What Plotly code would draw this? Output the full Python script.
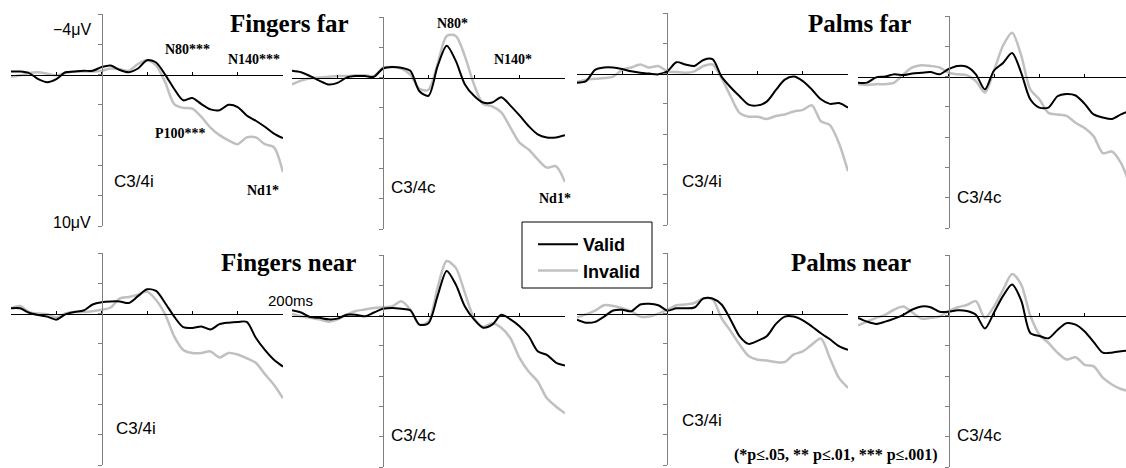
import plotly.graph_objects as go

W, H = 1126, 468

# time axis (ms)
time_ms = list(range(-100, 201, 10))

# ---- ERP amplitudes (µV, negative up) ----
fingers_far_ipsi_valid = [-0.2, -0.2, -0.1, 0.3, 0.5, 0.3, -0.15, -0.2, -0.25, -0.25, -0.5, -0.6, -0.3, -0.15, -0.4, -0.95, -0.8, 0.0, 0.95, 1.7, 1.55, 1.95, 2.3, 2.35, 2.0, 2.15, 2.7, 3.05, 3.45, 3.9, 4.2]
fingers_far_ipsi_invalid = [0.15, 0.05, -0.1, -0.15, -0.05, 0.05, -0.1, -0.2, -0.2, -0.2, -0.25, -0.4, -0.35, -0.25, -0.7, -0.95, -0.6, 0.5, 1.95, 2.2, 2.25, 2.8, 3.5, 4.0, 4.35, 4.6, 4.15, 4.15, 4.6, 4.8, 6.45]
fingers_far_contra_valid = [-0.45, -0.35, -0.1, 0.2, 0.45, 0.35, 0.0, -0.1, -0.1, -0.05, -0.6, -0.7, -0.65, -0.45, 0.9, 1.2, -0.75, -2.1, -1.1, 0.45, 1.2, 1.65, 1.65, 1.3, 1.85, 2.5, 3.2, 3.75, 3.95, 3.95, 3.8]
fingers_far_contra_invalid = [0.45, 0.2, 0.05, 0.0, -0.05, -0.1, -0.1, -0.15, -0.15, -0.1, -0.65, -0.7, -0.6, -0.2, 0.75, 0.8, -0.9, -2.75, -2.75, -1.4, 0.45, 1.75, 1.9, 2.3, 3.3, 4.3, 4.75, 5.4, 5.95, 5.85, 6.9]
palms_far_ipsi_valid = [0.6, 0.5, -0.25, -0.4, -0.4, -0.3, -0.15, -0.05, 0.0, 0.05, -0.15, -0.75, -0.6, -0.5, -0.9, -0.95, 0.2, 0.9, 1.5, 2.05, 2.1, 1.85, 1.1, 0.4, 0.2, 0.5, 1.05, 1.7, 2.0, 1.95, 2.25]
palms_far_ipsi_invalid = [0.55, 0.4, 0.35, 0.3, 0.2, -0.25, -0.4, -0.6, -0.4, -0.5, -0.15, -0.1, -0.05, -0.15, -0.5, -0.6, 0.3, 1.5, 2.6, 2.85, 2.85, 3.0, 2.8, 2.7, 2.5, 2.4, 2.1, 3.15, 3.4, 4.6, 6.45]
palms_far_contra_valid = [0.4, 0.4, 0.05, 0.0, -0.15, -0.1, -0.2, -0.25, -0.3, -0.15, -0.5, -0.7, -0.65, -0.15, 0.85, -0.4, -0.9, -1.55, -0.25, 1.5, 2.05, 2.05, 1.3, 1.15, 1.25, 1.8, 2.5, 2.7, 2.8, 2.5, 2.25]
palms_far_contra_invalid = [0.5, 0.55, 0.5, 0.5, 0.4, -0.15, -0.6, -0.75, -0.7, -0.6, -0.25, -0.15, -0.1, 0.3, 1.05, -0.4, -2.05, -2.9, -1.4, 0.85, 1.5, 2.4, 2.5, 2.6, 3.05, 3.4, 3.95, 5.05, 4.95, 5.7, 7.2]
fingers_near_ipsi_valid = [-0.35, -0.35, -0.05, 0.1, 0.2, 0.4, 0.05, -0.1, -0.2, -0.6, -0.75, -0.8, -0.8, -0.7, -1.15, -1.6, -1.5, -0.7, 0.2, 0.9, 0.95, 0.85, 1.05, 0.7, 0.6, 0.55, 0.55, 1.6, 2.4, 3.05, 3.5]
fingers_near_ipsi_invalid = [-0.35, -0.5, -0.1, 0.0, 0.05, 0.25, 0.0, -0.1, -0.1, -0.15, -0.25, -0.4, -1.0, -1.1, -1.25, -1.45, -0.9, 0.05, 1.5, 2.4, 2.6, 2.6, 2.5, 2.9, 2.6, 2.7, 2.95, 3.25, 4.0, 4.7, 5.6]
fingers_near_contra_valid = [-0.35, -0.2, 0.1, 0.15, 0.25, 0.2, -0.05, -0.05, 0.05, -0.2, -0.45, -0.5, -0.45, -0.35, 0.6, 0.5, -1.3, -2.95, -2.05, -0.6, 0.25, 0.8, 0.6, -0.05, 0.25, 0.7, 1.35, 2.35, 2.6, 3.1, 3.3]
fingers_near_contra_invalid = [-0.1, 0.05, 0.15, 0.25, 0.4, 0.25, -0.05, -0.3, -0.4, -0.5, -0.55, -0.6, -0.95, -0.4, 0.6, 0.4, -1.85, -3.6, -3.15, -1.5, 0.15, 0.75, 0.5, 0.8, 1.5, 2.8, 3.7, 4.35, 5.45, 6.0, 6.45]
palms_near_ipsi_valid = [0.4, 0.6, 0.55, 0.2, -0.2, -0.25, -0.15, -0.6, -0.65, -0.55, -0.2, -0.35, -0.35, -0.4, -1.0, -1.0, -0.6, 0.4, 1.5, 2.0, 1.8, 1.5, 0.7, 0.2, 0.2, 0.45, 0.85, 1.3, 1.7, 2.15, 2.4]
palms_near_ipsi_invalid = [0.25, 0.05, -0.2, -0.55, -0.5, -0.35, -0.15, 0.2, 0.2, 0.0, -0.25, -0.55, -0.6, -0.7, -1.0, -0.95, 0.3, 1.15, 2.05, 2.8, 3.05, 3.1, 3.2, 3.2, 2.7, 2.5, 2.05, 1.65, 2.95, 4.25, 4.9]
palms_near_contra_valid = [0.15, 0.4, 0.55, 0.4, 0.2, -0.05, -0.4, -0.6, -0.55, -0.25, -0.25, -0.35, -0.3, -0.05, 0.85, -0.2, -1.3, -2.05, -1.0, 1.15, 1.35, 1.5, 0.95, 0.5, 0.6, 1.05, 1.75, 2.45, 2.45, 2.35, 2.3]
palms_near_contra_invalid = [0.65, 0.4, 0.15, -0.05, -0.4, -0.6, -0.2, 0.2, 0.15, 0.05, -0.3, -0.55, -0.7, -0.95, 0.15, -0.6, -1.7, -2.75, -2.05, 0.0, 1.25, 1.8, 2.45, 2.9, 2.75, 3.25, 3.35, 4.1, 4.55, 4.85, 5.0]

series_names = ["Valid", "Invalid"]
y_ticks = [-4, -2, 0, 2, 4, 6, 8, 10]
x_ticks = [-100, -50, 0, 50, 100, 150, 200]

panels_data = [
    (fingers_far_ipsi_valid, fingers_far_ipsi_invalid),
    (fingers_far_contra_valid, fingers_far_contra_invalid),
    (palms_far_ipsi_valid, palms_far_ipsi_invalid),
    (palms_far_contra_valid, palms_far_contra_invalid),
    (fingers_near_ipsi_valid, fingers_near_ipsi_invalid),
    (fingers_near_contra_valid, fingers_near_contra_invalid),
    (palms_near_ipsi_valid, palms_near_ipsi_invalid),
    (palms_near_contra_valid, palms_near_contra_invalid),
]

# panel geometry in pixels: x of t=-100, x right edge, y of -4, y of 10, x range end
PXMS = 272 / 300.0
geom = [
    (11, 283, 14, 226, 200),
    (292, 565, 17, 229, 200),
    (577, 848, 13, 225, 200),
    (858, 1126, 16, 228, -100 + (1126 - 858) / PXMS),
    (11, 283, 253, 465, 200),
    (292, 565, 255, 467, 200),
    (577, 848, 253, 465, 200),
    (858, 1126, 255, 467, -100 + (1126 - 858) / PXMS),
]

BLACK = "#000000"
GRAY = "#c0c0c0"

fig = go.Figure()
layout = dict(
    width=W, height=H, margin=dict(l=0, r=0, t=0, b=0),
    plot_bgcolor="white", paper_bgcolor="white", showlegend=True,
)

for i, ((valid, invalid), (x0, x1, yt, yb, xend)) in enumerate(zip(panels_data, geom)):
    n = i + 1
    xa = "x" if n == 1 else f"x{n}"
    ya = "y" if n == 1 else f"y{n}"
    fig.add_trace(go.Scatter(x=time_ms, y=invalid, mode="lines", name=series_names[1],
                             line=dict(color=GRAY, width=2.5, shape="spline", smoothing=0.8),
                             xaxis=xa, yaxis=ya, showlegend=(n == 1), legendrank=2))
    fig.add_trace(go.Scatter(x=time_ms, y=valid, mode="lines", name=series_names[0],
                             line=dict(color=BLACK, width=2, shape="spline", smoothing=0.8),
                             xaxis=xa, yaxis=ya, showlegend=(n == 1), legendrank=1))
    xspan = xend + 100
    x_zero_px = x0 + (x1 - x0) * 100.0 / xspan
    y_zero_px = yt + (yb - yt) * 4.0 / 14.0
    layout["xaxis" if n == 1 else f"xaxis{n}"] = dict(
        domain=[x0 / W, x1 / W], range=[-100, xend], anchor="free",
        position=1 - y_zero_px / H, showline=True, linecolor=BLACK, linewidth=1,
        ticks="inside", ticklen=3, tickcolor=BLACK, tickvals=x_ticks,
        showticklabels=False, showgrid=False, zeroline=False, fixedrange=True,
    )
    layout["yaxis" if n == 1 else f"yaxis{n}"] = dict(
        domain=[1 - yb / H, 1 - yt / H], range=[10, -4], anchor="free",
        position=x_zero_px / W, showline=True, linecolor="#808080", linewidth=1.2,
        ticks="outside", ticklen=4, tickcolor="#808080", tickvals=y_ticks,
        showticklabels=False, showgrid=False, zeroline=False, fixedrange=True,
    )

fig.update_layout(**layout)


def P(x, y):
    return x / W, 1 - y / H


annots = []


def add_text(text, x, y, size, family, bold=False, color="black"):
    px_, py_ = P(x, y)
    annots.append(dict(text=f"<b>{text}</b>" if bold else text, x=px_, y=py_,
                       xref="paper", yref="paper", showarrow=False,
                       xanchor="center", yanchor="middle",
                       font=dict(size=size, family=family, color=color)))


SERIF = "Liberation Serif"
SANS = "Liberation Sans"

# panel titles
add_text("Fingers far", 289, 23, 25, SERIF, True)
add_text("Palms far", 860, 23, 25, SERIF, True)
add_text("Fingers near", 288, 262, 25, SERIF, True)
add_text("Palms near", 851, 262, 25, SERIF, True)

# component labels
add_text("N80***", 187, 50, 14, SERIF, True)
add_text("N140***", 254, 60, 14, SERIF, True)
add_text("P100***", 180, 133, 14, SERIF, True)
add_text("Nd1*", 263, 190, 14, SERIF, True)
add_text("N80*", 452, 23, 14, SERIF, True)
add_text("N140*", 513, 60, 14, SERIF, True)
add_text("Nd1*", 555, 198, 14, SERIF, True)

# electrode labels
for txt, x, y in [("C3/4i", 134, 182), ("C3/4c", 413, 187), ("C3/4i", 702, 182), ("C3/4c", 979, 197),
                  ("C3/4i", 136, 428), ("C3/4c", 413, 435), ("C3/4i", 702, 420), ("C3/4c", 979, 435)]:
    add_text(txt, x, y, 17, SANS)

# scale labels
add_text("−4μV", 72, 29, 16, SANS)
add_text("10μV", 72, 222, 16, SANS)
add_text("200ms", 290, 300, 15, SANS)

# footnote
add_text("(*p≤.05, ** p≤.01, *** p≤.001)", 836, 455, 16, SERIF, True)

fig.update_layout(
    annotations=annots,
    legend=dict(x=533 / W, y=1 - 226 / H, xanchor="left", yanchor="top",
                bgcolor="rgba(0,0,0,0)", borderwidth=0,
                font=dict(family=SANS, size=18, color="black", weight="bold"),
                itemwidth=40, tracegroupgap=0, traceorder="normal"),
    shapes=[dict(type="rect", xref="paper", yref="paper",
                 x0=522 / W, x1=652 / W, y0=1 - 288 / H, y1=1 - 222 / H,
                 line=dict(color="black", width=1), fillcolor="rgba(0,0,0,0)")],
)

fig.write_html("out.html")
